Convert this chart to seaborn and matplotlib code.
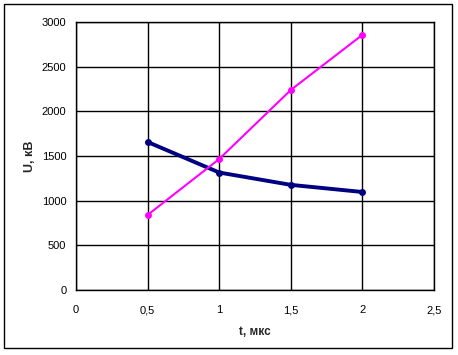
import matplotlib
matplotlib.use("Agg")
import matplotlib.pyplot as plt
import seaborn as sns
import pandas as pd
from matplotlib.patches import Rectangle

t_values = [0.5, 1.0, 1.5, 2.0]
u_navy = [1657, 1315, 1177, 1097]
u_magenta = [840, 1466, 2239, 2856]
x_ticks = [0, 0.5, 1, 1.5, 2, 2.5]
x_tick_labels = ["0", "0,5", "1", "1,5", "2", "2,5"]
y_ticks = [0, 500, 1000, 1500, 2000, 2500, 3000]

sns.set_style("white")
plt.rcParams['font.family'] = ['Liberation Sans', 'DejaVu Sans']

fig = plt.figure(figsize=(4.58, 3.55), dpi=100)
ax = fig.add_axes([76/458, 1-290/355, (434-76)/458, (290-22)/355])

df1 = pd.DataFrame({"t": t_values, "U": u_navy})
df2 = pd.DataFrame({"t": t_values, "U": u_magenta})
sns.lineplot(data=df1, x="t", y="U", ax=ax, color="#000080", linewidth=2.8,
             marker="o", markersize=5, markeredgewidth=0)
sns.lineplot(data=df2, x="t", y="U", ax=ax, color="#FF00FF", linewidth=1.5,
             marker="o", markersize=5, markeredgewidth=0)

ax.set_xlim(0, 2.5)
ax.set_ylim(0, 3000)
ax.set_xticks(x_ticks)
ax.set_xticklabels(x_tick_labels)
ax.set_yticks(y_ticks)
ax.grid(True, color="black", linewidth=1)
ax.set_axisbelow(True)
for s in ["top", "right", "left", "bottom"]:
    ax.spines[s].set_visible(True)
    ax.spines[s].set_color("black")
    ax.spines[s].set_linewidth(1)
ax.tick_params(axis="both", direction="out", length=4, width=1, color="black",
               labelsize=8, labelcolor="black", pad=3)
ax.tick_params(axis="x", pad=7)
ax.set_xlabel("t, мкс", fontsize=8.5, fontweight="bold", labelpad=8)
ax.set_ylabel("U, кВ", fontsize=9, fontweight="bold", labelpad=4)

fig.patches.append(Rectangle((4/458, 1-348/355), (452-4)/458, (348-4)/355,
                             transform=fig.transFigure, fill=False,
                             edgecolor="black", linewidth=1))

fig.savefig("out.png", dpi=100)
